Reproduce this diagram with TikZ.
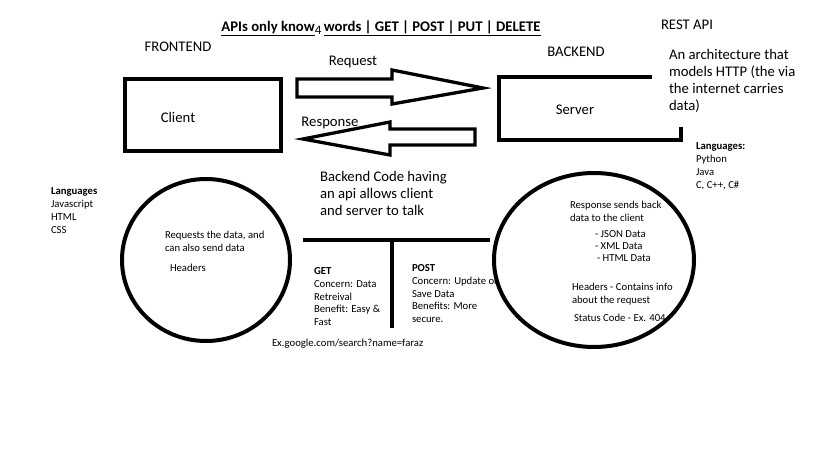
\documentclass[tikz,border=0pt]{standalone}
\usepackage{fontspec}
\setmainfont{Carlito}
\usetikzlibrary{shapes.geometric}
\tikzset{
  every picture/.style={x=1pt, y=-1pt, line width=4pt},
  box/.style={draw, line width=4pt, inner sep=0pt},
  ring/.style={draw, ellipse, line width=4pt, inner sep=0pt},
  fat/.style={draw, line width=3.3pt, line join=miter},
  edge/.style={draw, line width=4.5pt},
  big/.style={inner sep=0pt, font=\fontsize{14.7}{17.2}\selectfont},
  bigblock/.style={big, anchor=north west, align=left},
  small/.style={inner sep=0pt, font=\fontsize{10.7}{12.7}\selectfont},
  smallblock/.style={small, anchor=north west, align=left},
  title/.style={inner sep=0pt, font=\bfseries\fontsize{14.7}{17}\selectfont},
}

\begin{document}
\begin{tikzpicture}
  \fill[white] (0,0) rectangle (819,460);
  \useasboundingbox (0,0) rectangle (819,460);
  % header
  \node[title] (title) at (381,28) {\underline{APIs only know}\raisebox{-3pt}{\mdseries\fontsize{13}{15}\selectfont 4}\,\underline{words | GET | POST | PUT | DELETE}};
  \node[big] (front) at (178,47) {FRONTEND};
  \node[big] (back) at (576,52) {BACKEND};
  \node[big, anchor=west] (rest) at (659,25) {REST API};
  \node[bigblock] (restnote) at (667,47) {An architecture that\\models HTTP (the via\\the internet carries\\data)};
  % client and server
  \node[box, minimum width=156pt, minimum height=72pt] (client) at (203,115) {};
  \node[big] (clientlbl) at (178,117) {Client};
  \draw[box] (652,77) -| (499,140) -| (681,127);
  \node[big] (serverlbl) at (575,110) {Server};
  % request / response arrows
  \node[big] (req) at (353,62) {Request};
  \draw[fat] (297,79) -- (392,79) -- (392,70) -- (483,88) -- (392,104) -- (392,97) -- (297,97) -- cycle;
  \node[big] (resp) at (330,123) {Response};
  \draw[fat] (475,129) -- (390,129) -- (390,122) -- (303,139) -- (390,155) -- (390,145) -- (475,145) -- cycle;
  \node[bigblock] (api) at (318,169) {Backend Code having\\an api allows client\\and server to talk};
  % languages
  \node[smallblock] (frontlang) at (49,186) {\textbf{Languages}\\Javascript\\HTML\\CSS};
  \node[smallblock] (backlang) at (694,141) {\textbf{Languages:}\\Python\\Java\\C, C++, C\#};
  % client side
  \node[ring, minimum width=168pt, minimum height=162pt] (clientring) at (206,260) {};
  \node[smallblock] (reqnote) at (163,229) {Requests the data, and\\can also send data};
  \node[small, anchor=west] (clienthead) at (168,268) {Headers};
  % GET / POST
  \coordinate (tl) at (303,240);
  \coordinate (tr) at (490,240);
  \coordinate (tm) at (392,240);
  \coordinate (tb) at (392,328);
  \draw[edge] (tl) -- (tr);
  \draw[edge] (tm) -- (tb);
  \node[smallblock] (get) at (312,265.7) {\textbf{GET}\\Concern: Data\\Retreival\\Benefit: Easy \&\\Fast};
  \node[smallblock] (post) at (410,262.7) {\textbf{POST}\\Concern: Update or\\Save Data\\Benefits: More\\secure.};
  \node[small, anchor=west] (url) at (270,344) {Ex.google.com/search?name=faraz};
  % server side
  \node[ring, minimum width=200pt, minimum height=174pt] (serverring) at (594,260) {};
  \node[smallblock] (respnote) at (568,199) {Response sends back\\data to the client};
  \node[smallblock, font=\fontsize{10.7}{12}\selectfont] (formats) at (593,229) {- JSON Data\\- XML Data\\\hspace{2pt}- HTML Data};
  \node[smallblock] (serverhead) at (570,281) {Headers - Contains info\\about the request};
  \node[small, anchor=west] (status) at (572,318) {Status Code - Ex. 404};
\end{tikzpicture}
\end{document}
